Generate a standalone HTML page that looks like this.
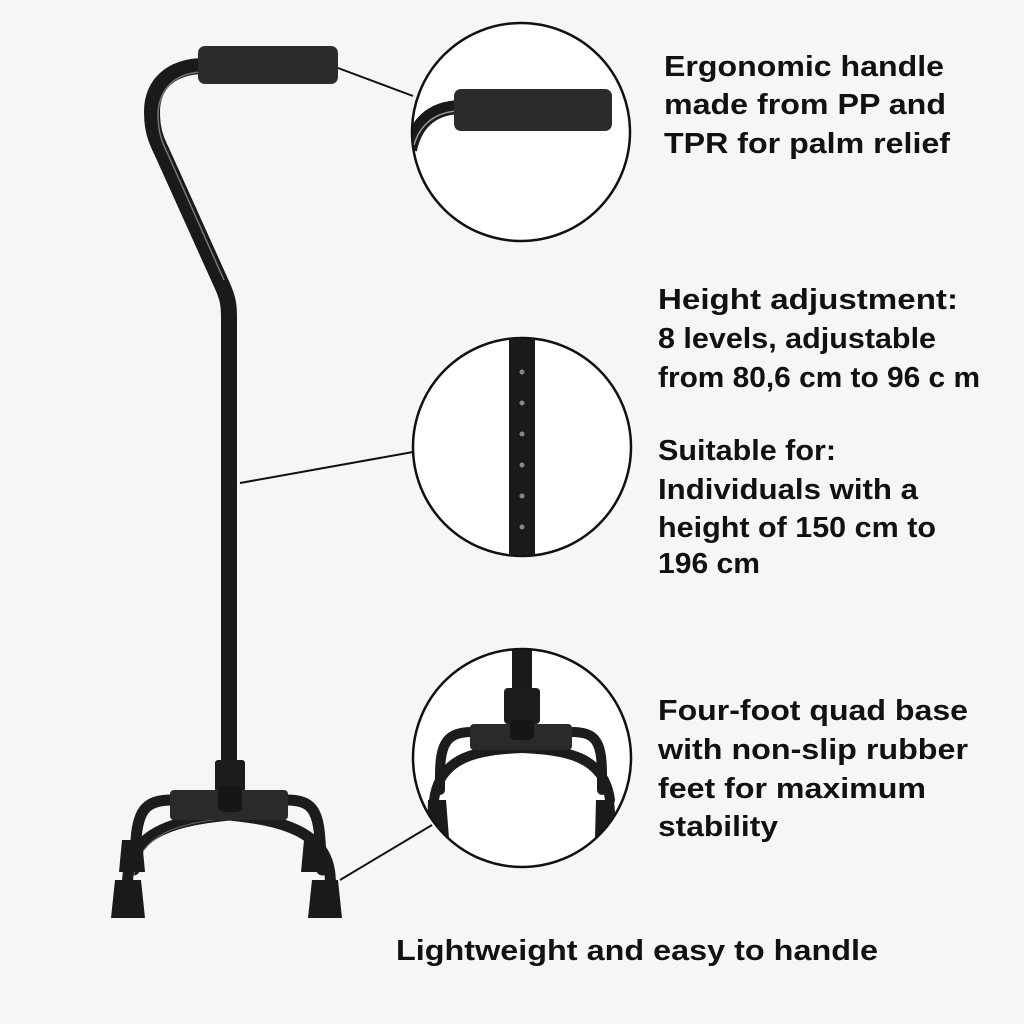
<!DOCTYPE html>
<html><head><meta charset="utf-8"><style>
html,body{margin:0;padding:0;background:#f6f6f6;}
svg{display:block}
text{font-family:"Liberation Sans",sans-serif;font-weight:bold;fill:#111;font-size:29px}
</style></head><body>
<svg width="1024" height="1024" viewBox="0 0 1024 1024">
<rect width="1024" height="1024" fill="#f6f6f6"/>
<g stroke="#111" stroke-width="2">
<line x1="338" y1="68" x2="413" y2="96"/>
<line x1="240" y1="483" x2="413" y2="452"/>
<line x1="340" y1="880" x2="432" y2="825"/>
</g>
<path d="M205 66 C170 66 152 85 152 112 C152 130 156 140 162 152 L222 285 C228 298 229 305 229 318 L229 770" fill="none" stroke="#1a1a1a" stroke-width="16" stroke-linecap="round"/>
<path d="M200 72 C175 74 160 88 158 112 C158 128 160 138 166 150 L224 280" fill="none" stroke="#777" stroke-width="1.5"/>
<rect x="198" y="46" width="140" height="38" rx="7" fill="#2b2b2b"/>
<rect x="215" y="760" width="30" height="32" rx="3" fill="#1c1c1c"/>
<g fill="none" stroke="#1c1c1c" stroke-width="11" stroke-linecap="round">
<path d="M172 800 C148 800 138 808 136 840 L134 870"/>
<path d="M286 800 C310 800 318 808 320 840 L322 870"/>
<path d="M229 815 C180 820 132 830 128 875 L127 888"/>
<path d="M229 815 C278 820 326 830 330 875 L331 888"/>
</g>
<path d="M229 818 C180 823 140 833 134 875" fill="none" stroke="#666" stroke-width="1"/>
<rect x="170" y="790" width="118" height="30" rx="4" fill="#2a2a2a"/>
<rect x="218" y="786" width="24" height="26" rx="6" fill="#161616"/>
<g fill="#1a1a1a">
<path d="M122 840 h20 l3 32 h-26z"/>
<path d="M304 840 h20 l3 32 h-26z"/>
<path d="M115 880 h26 l4 38 h-34z"/>
<path d="M312 880 h26 l4 38 h-34z"/>
</g>
<defs>
<clipPath id="c1"><circle cx="521" cy="132" r="108"/></clipPath>
<clipPath id="c2"><circle cx="522" cy="447" r="108"/></clipPath>
<clipPath id="c3"><circle cx="522" cy="758" r="108"/></clipPath>
</defs>
<circle cx="521" cy="132" r="109" fill="#fff" stroke="#111" stroke-width="2.5"/>
<g clip-path="url(#c1)">
<path d="M460 107 C430 108 415 125 410 150" fill="none" stroke="#1a1a1a" stroke-width="14"/>
<path d="M458 111 C436 112 420 124 414 145" fill="none" stroke="#999" stroke-width="1.5"/>
<rect x="454" y="89" width="158" height="42" rx="7" fill="#2b2b2b"/>
</g>
<circle cx="522" cy="447" r="109" fill="#fff" stroke="#111" stroke-width="2.5"/>
<g clip-path="url(#c2)">
<rect x="509" y="330" width="26" height="240" fill="#1a1a1a"/>
<g fill="#888"><circle cx="522" cy="372" r="2.5"/><circle cx="522" cy="403" r="2.5"/><circle cx="522" cy="434" r="2.5"/><circle cx="522" cy="465" r="2.5"/><circle cx="522" cy="496" r="2.5"/><circle cx="522" cy="527" r="2.5"/></g>
</g>
<circle cx="522" cy="758" r="109" fill="#fff" stroke="#111" stroke-width="2.5"/>
<g clip-path="url(#c3)">
<rect x="512" y="645" width="20" height="50" fill="#1a1a1a"/>
<rect x="504" y="688" width="36" height="36" rx="4" fill="#1c1c1c"/>
<g fill="none" stroke="#1c1c1c" stroke-width="10" stroke-linecap="round">
<path d="M472 732 C448 732 440 742 440 775 L440 790"/>
<path d="M572 732 C596 732 602 742 602 775 L602 790"/>
<path d="M522 748 C480 750 440 755 434 800"/>
<path d="M522 748 C564 750 604 755 610 800"/>
</g>
<rect x="470" y="724" width="102" height="26" rx="4" fill="#2a2a2a"/>
<rect x="510" y="720" width="24" height="20" rx="5" fill="#161616"/>
<g fill="#1a1a1a">
<path d="M428 800 h18 l3 38 h-22z"/><path d="M596 800 h18 l3 38 h-22z"/>
</g>
</g>
<g lengthAdjust="spacingAndGlyphs">
<text x="664" y="76" textLength="280" lengthAdjust="spacingAndGlyphs">Ergonomic handle</text>
<text x="664" y="114" textLength="282" lengthAdjust="spacingAndGlyphs">made from PP and</text>
<text x="664" y="153" textLength="286" lengthAdjust="spacingAndGlyphs">TPR for palm relief</text>
<text x="658" y="309" textLength="300" lengthAdjust="spacingAndGlyphs">Height adjustment:</text>
<text x="658" y="348" textLength="278" lengthAdjust="spacingAndGlyphs">8 levels, adjustable</text>
<text x="658" y="387" textLength="322" lengthAdjust="spacingAndGlyphs">from 80,6 cm to 96 c m</text>
<text x="658" y="460" textLength="178" lengthAdjust="spacingAndGlyphs">Suitable for:</text>
<text x="658" y="499" textLength="260" lengthAdjust="spacingAndGlyphs">Individuals with a</text>
<text x="658" y="537" textLength="278" lengthAdjust="spacingAndGlyphs">height of 150 cm to</text>
<text x="658" y="573" textLength="102" lengthAdjust="spacingAndGlyphs">196 cm</text>
<text x="658" y="720" textLength="310" lengthAdjust="spacingAndGlyphs">Four-foot quad base</text>
<text x="658" y="759" textLength="310" lengthAdjust="spacingAndGlyphs">with non-slip rubber</text>
<text x="658" y="798" textLength="268" lengthAdjust="spacingAndGlyphs">feet for maximum</text>
<text x="658" y="836" textLength="120" lengthAdjust="spacingAndGlyphs">stability</text>
<text x="396" y="960" textLength="482" lengthAdjust="spacingAndGlyphs">Lightweight and easy to handle</text>
</g>
</svg>
</body></html>
